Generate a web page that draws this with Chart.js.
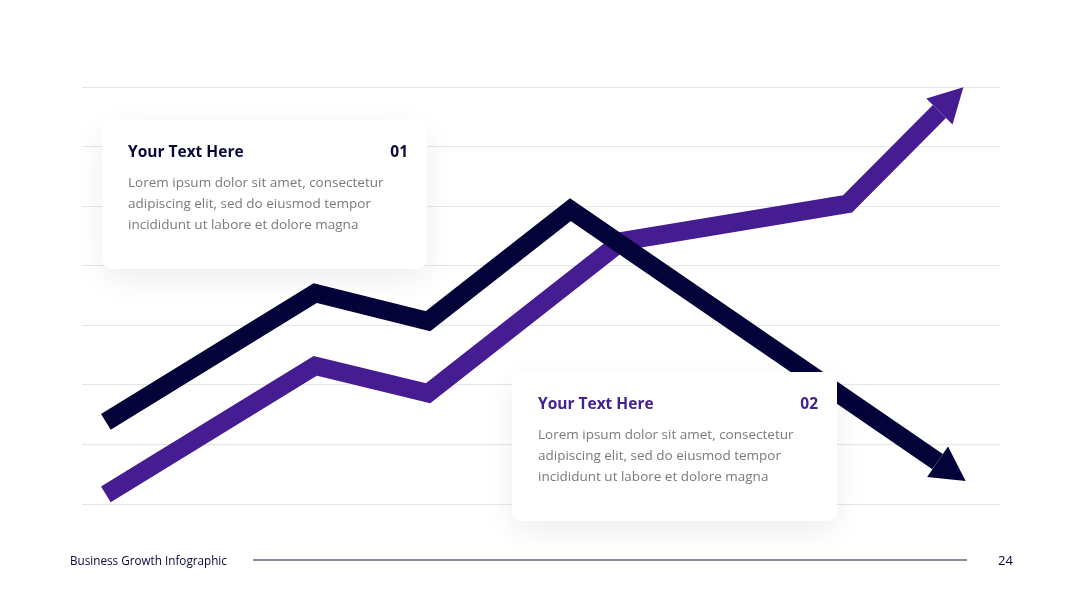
<!DOCTYPE html>
<html>
<head>
<meta charset="utf-8">
<script src="https://cdn.jsdelivr.net/npm/chart.js@4.4.1/dist/chart.umd.min.js"></script>
<style>
  html, body { margin: 0; padding: 0; background: #fff; }
  #wrap { position: relative; width: 1080px; height: 608px; overflow: hidden; font-family: 'Open Sans', sans-serif; }
  #growthChart { position: absolute; left: 0; top: 0; }
  .card {
    position: absolute; width: 325px; height: 149px; background: #fff; border-radius: 10px;
    box-shadow: 0 10px 30px rgba(0, 0, 0, 0.07); box-sizing: border-box; padding: 20px 19px 0 26px;
  }
  .card .head { display: flex; justify-content: space-between; font-weight: 700; font-size: 15.5px; line-height: 22px; }
  .card p { margin: 10px 0 0; font-size: 13.5px; line-height: 21px; color: #7a7a7a; white-space: nowrap; }
  .card.one { left: 102px; top: 120px; }
  .card.one .head { color: #08083c; }
  .card.two { left: 512px; top: 372px; }
  .card.two .head { color: #45208f; }
  .footer-title { position: absolute; left: 70px; top: 551px; font-size: 13px; color: #08083c; transform: scaleX(0.9); transform-origin: left center; }
  .footer-rule { position: absolute; left: 253px; top: 559px; width: 714px; height: 2px; background: #8a8a98; }
  .footer-page { position: absolute; left: 998px; top: 551px; font-size: 13px; color: #08083c; }
</style>
</head>
<body>
<div id="wrap">
  <canvas id="growthChart" width="1080" height="608"></canvas>
  <div class="card one">
    <div class="head"><span>Your Text Here</span><span>01</span></div>
    <p>Lorem ipsum dolor sit amet, consectetur<br>adipiscing elit, sed do eiusmod tempor<br>incididunt ut labore et dolore magna</p>
  </div>
  <div class="card two">
    <div class="head"><span>Your Text Here</span><span>02</span></div>
    <p>Lorem ipsum dolor sit amet, consectetur<br>adipiscing elit, sed do eiusmod tempor<br>incididunt ut labore et dolore magna</p>
  </div>
  <div class="footer-title">Business Growth Infographic</div>
  <div class="footer-rule"></div>
  <div class="footer-page">24</div>
</div>
<script>
// x is a 0-100 timeline, y is measured in grid steps (0-7)
const darkX = [2.6, 25.4, 37.7, 53.2, 93.2];
const darkY = [1.38, 3.54, 3.07, 4.94, 0.71];
const purpleX = [2.6, 25.4, 37.7, 58.8, 83.4, 93.4];
const purpleY = [0.16, 2.32, 1.86, 4.41, 5.04, 6.59];
const gridSteps = [0, 1, 2, 3, 4, 5, 6, 7];

const toPoints = (xs, ys) => xs.map((x, i) => ({ x: x, y: ys[i] }));

// draws an arrowhead past the last point of each line, along the last segment
const arrowHeads = {
    id: 'arrowHeads',
    afterDatasetsDraw(chart) {
        const ctx = chart.ctx;
        chart.data.datasets.forEach((ds, i) => {
            const pts = chart.getDatasetMeta(i).data;
            const a = pts[pts.length - 2];
            const b = pts[pts.length - 1];
            const dx = b.x - a.x, dy = b.y - a.y;
            const len = Math.sqrt(dx * dx + dy * dy);
            const ux = dx / len, uy = dy / len;
            const L = 34, H = 18.5;
            ctx.save();
            ctx.fillStyle = ds.borderColor;
            ctx.beginPath();
            ctx.moveTo(b.x + ux * L, b.y + uy * L);
            ctx.lineTo(b.x - uy * H, b.y + ux * H);
            ctx.lineTo(b.x + uy * H, b.y - ux * H);
            ctx.closePath();
            ctx.fill();
            ctx.restore();
        });
    }
};

new Chart(document.getElementById('growthChart'), {
    type: 'line',
    data: {
        datasets: [
            {
                label: 'Decline',
                data: toPoints(darkX, darkY),
                borderColor: '#03033a',
                borderWidth: 18.5,
            },
            {
                label: 'Growth',
                data: toPoints(purpleX, purpleY),
                borderColor: '#461c92',
                borderWidth: 18.5,
            },
        ],
    },
    options: {
        responsive: false,
        animation: false,
        layout: {
            padding: { left: 82, right: 80, top: 87, bottom: 104 },
        },
        elements: {
            line: { tension: 0, borderCapStyle: 'butt', borderJoinStyle: 'miter', fill: false },
            point: { radius: 0, hoverRadius: 0 },
        },
        datasets: { line: { clip: false } },
        plugins: {
            legend: { display: false },
            tooltip: { enabled: false },
        },
        scales: {
            x: {
                type: 'linear',
                min: 0,
                max: 100,
                display: false,
            },
            y: {
                min: gridSteps[0],
                max: gridSteps[gridSteps.length - 1],
                ticks: { display: false, stepSize: 1 },
                border: { display: false },
                grid: { color: '#e6e6e9', lineWidth: 1, drawTicks: false },
            },
        },
    },
    plugins: [arrowHeads],
});
</script>
</body>
</html>
